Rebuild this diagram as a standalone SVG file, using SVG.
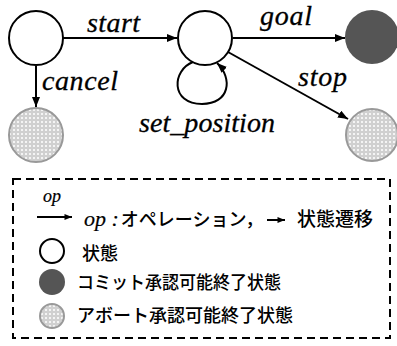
<svg xmlns="http://www.w3.org/2000/svg" width="397" height="346" viewBox="0 0 397 346">
<style>
.st{fill:#fff;stroke:#000;stroke-width:2}
.cm{fill:#555;stroke:none}
.ab{fill:url(#dots);stroke:#999;stroke-width:2}
.lbl{font-family:"Liberation Serif","Times New Roman","DejaVu Serif",serif;font-style:italic;font-size:28px;fill:#000;stroke:#000;stroke-width:0.3}
.jp{font-family:"Noto Sans CJK JP",sans-serif;font-size:18px;font-weight:500;fill:#000}
.edge{fill:none;stroke:#000;stroke-width:2}
</style>
<defs>
<pattern id="dots" width="4" height="4" patternUnits="userSpaceOnUse">
<rect width="4" height="4" fill="#d0d0d0"/>
<rect x="1" y="1" width="2" height="2" fill="#f4f4f4"/>
</pattern>
<marker id="ah" viewBox="0 0 10 8" refX="10" refY="4" markerWidth="10" markerHeight="8" markerUnits="userSpaceOnUse" orient="auto">
<path d="M0 0 L10 4 L0 8 Z" fill="#000"/>
</marker>
<marker id="ahs" viewBox="0 0 10 8" refX="10" refY="4" markerWidth="8" markerHeight="6" markerUnits="userSpaceOnUse" orient="auto">
<path d="M0 0 L10 4 L0 8 Z" fill="#000"/>
</marker>
</defs>

<g id="connectors">
<line class="edge" x1="63" y1="38" x2="177" y2="38" marker-end="url(#ah)"/>
<line class="edge" x1="36" y1="66" x2="36" y2="107" marker-end="url(#ah)"/>
<line class="edge" x1="233" y1="38" x2="345" y2="38" marker-end="url(#ah)"/>
<line class="edge" x1="228" y1="52" x2="348" y2="119" marker-end="url(#ah)"/>
<path class="edge" d="M193 62 C172 70 170 104 202 104 C230 104 233 78 217 63" marker-end="url(#ah)"/>
<text class="lbl" x="87" y="32" textLength="53">start</text>
<text class="lbl" x="42" y="90" textLength="76">cancel</text>
<text class="lbl" x="260" y="25" textLength="52">goal</text>
<text class="lbl" x="298" y="86" textLength="49">stop</text>
<text class="lbl" x="139" y="132" textLength="136">set_position</text>
</g>

<g id="n-init"><circle class="st" cx="36" cy="38" r="27"/></g>
<g id="n-mid"><circle class="st" cx="205" cy="38" r="27"/></g>
<g id="n-goal"><circle class="cm" cx="372" cy="37" r="27"/></g>
<g id="n-cancel"><circle class="ab" cx="36" cy="135" r="27"/></g>
<g id="n-stop"><circle class="ab" cx="372" cy="135" r="26"/></g>

<g id="legend">
<rect x="13" y="179" width="377" height="159" fill="none" stroke="#000" stroke-width="2" stroke-dasharray="8 5"/>
<text class="lbl" x="43" y="202" style="font-size:18px;stroke-width:0.2">op</text>
<line class="edge" x1="37" y1="217" x2="72" y2="217" stroke-width="1.5" marker-end="url(#ahs)"/>
<text x="84" y="226"><tspan class="lbl" style="font-size:22px;stroke-width:0.2">op :</tspan><tspan class="jp" dx="2">オペレーション，</tspan></text>
<line class="edge" x1="267" y1="220" x2="285" y2="220" stroke-width="1.5" marker-end="url(#ahs)"/>
<text class="jp" x="297" y="226" style="font-size:19px">状態遷移</text>
<circle class="st" cx="52" cy="251" r="12"/>
<text class="jp" x="82" y="260">状態</text>
<circle class="cm" cx="52" cy="282" r="13"/>
<text class="jp" x="77" y="289" textLength="204" lengthAdjust="spacingAndGlyphs">コミット承認可能終了状態</text>
<circle class="ab" cx="52" cy="316" r="12"/>
<text class="jp" x="77" y="322">アボート承認可能終了状態</text>
</g>
</svg>
